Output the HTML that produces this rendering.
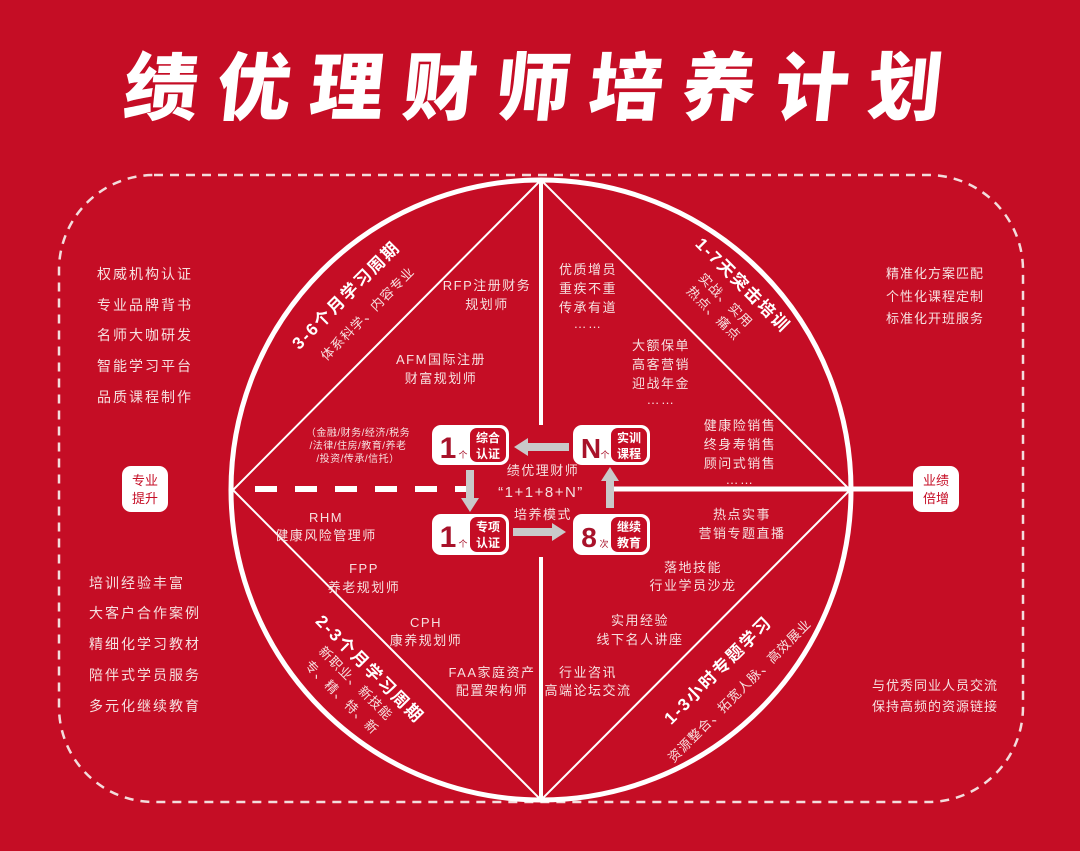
<!DOCTYPE html>
<html><head><meta charset="utf-8">
<style>
html,body{margin:0;padding:0;background:#c50d25;}
svg{display:block;}
text{font-family:"Liberation Sans","Noto Sans CJK SC",sans-serif;}
</style></head>
<body>
<svg width="1080" height="851" viewBox="0 0 1080 851" xmlns="http://www.w3.org/2000/svg">
<rect width="1080" height="851" fill="#c50d25"/>
<!-- title -->
<text x="540" y="114" text-anchor="middle" font-size="74" font-weight="900" fill="#fff" letter-spacing="19" font-family="'Noto Sans CJK SC',sans-serif" transform="skewX(-6) translate(12 0)" style="font-weight:900">绩优理财师培养计划</text>
<!-- dashed rounded rect -->
<rect x="59" y="175" width="964" height="627" rx="95" ry="95" fill="none" stroke="#f3dcdc" stroke-width="2.5" stroke-dasharray="9 7"/>
<!-- circle -->
<circle cx="541" cy="490" r="310" fill="none" stroke="#fff" stroke-width="5"/>
<!-- diamond -->
<polygon points="541,180 233,490 541,800 850,490" fill="none" stroke="#fff" stroke-width="2"/>
<line x1="541" y1="180" x2="541" y2="425" stroke="#fff" stroke-width="4"/>
<line x1="541" y1="557" x2="541" y2="800" stroke="#fff" stroke-width="4"/>
<!-- horizontal lines -->
<line x1="255" y1="489" x2="470" y2="489" stroke="#fff" stroke-width="6" stroke-dasharray="22 18"/>
<line x1="613" y1="489" x2="913" y2="489" stroke="#fff" stroke-width="5"/>
<!-- side boxes -->
<rect x="122" y="466" width="46" height="46" rx="9" fill="#fff"/>
<text x="145" y="485" text-anchor="middle" font-size="13" fill="#c50d25">专业</text>
<text x="145" y="503" text-anchor="middle" font-size="13" fill="#c50d25">提升</text>
<rect x="913" y="466" width="46" height="46" rx="9" fill="#fff"/>
<text x="936" y="485" text-anchor="middle" font-size="13" fill="#c50d25">业绩</text>
<text x="936" y="503" text-anchor="middle" font-size="13" fill="#c50d25">倍增</text>

<g font-size="14" fill="#f6e0e0" letter-spacing="2">
<text x="97" y="279">权威机构认证</text>
<text x="97" y="310">专业品牌背书</text>
<text x="97" y="340">名师大咖研发</text>
<text x="97" y="371">智能学习平台</text>
<text x="97" y="402">品质课程制作</text>
<text x="89" y="588">培训经验丰富</text>
<text x="89" y="618">大客户合作案例</text>
<text x="89" y="649">精细化学习教材</text>
<text x="89" y="680">陪伴式学员服务</text>
<text x="89" y="711">多元化继续教育</text>
</g>
<g font-size="13" fill="#f6e0e0" letter-spacing="1" text-anchor="middle">
<text x="935" y="278">精准化方案匹配</text>
<text x="935" y="301">个性化课程定制</text>
<text x="935" y="323">标准化开班服务</text>
<text x="935" y="690">与优秀同业人员交流</text>
<text x="935" y="711">保持高频的资源链接</text>
</g>

<!-- quadrant texts -->
<g font-size="13" fill="#f6e0e0" letter-spacing="1.5" text-anchor="middle">
<text x="487" y="290">RFP注册财务</text>
<text x="487" y="309">规划师</text>
<text x="441" y="364">AFM国际注册</text>
<text x="441" y="383">财富规划师</text>
<text x="358" y="436" font-size="10" letter-spacing="0.5">（金融/财务/经济/税务</text>
<text x="358" y="449" font-size="10" letter-spacing="0.5">/法律/住房/教育/养老</text>
<text x="358" y="462" font-size="10" letter-spacing="0.5">/投资/传承/信托）</text>
<text x="326" y="522">RHM</text>
<text x="326" y="540">健康风险管理师</text>
<text x="364" y="573">FPP</text>
<text x="364" y="592">养老规划师</text>
<text x="426" y="627">CPH</text>
<text x="426" y="645">康养规划师</text>
<text x="492" y="677">FAA家庭资产</text>
<text x="492" y="695">配置架构师</text>
<text x="588" y="274">优质增员</text>
<text x="588" y="293">重疾不重</text>
<text x="588" y="312">传承有道</text>
<text x="588" y="328">……</text>
<text x="661" y="350">大额保单</text>
<text x="661" y="369">高客营销</text>
<text x="661" y="388">迎战年金</text>
<text x="661" y="404">……</text>
<text x="740" y="430">健康险销售</text>
<text x="740" y="449">终身寿销售</text>
<text x="740" y="468">顾问式销售</text>
<text x="740" y="484">……</text>
<text x="742" y="519">热点实事</text>
<text x="742" y="538">营销专题直播</text>
<text x="693" y="572">落地技能</text>
<text x="693" y="590">行业学员沙龙</text>
<text x="640" y="625">实用经验</text>
<text x="640" y="644">线下名人讲座</text>
<text x="588" y="677">行业咨讯</text>
<text x="588" y="695">高端论坛交流</text>
</g>

<!-- rotated titles -->
<g fill="#fff" text-anchor="middle">
<text transform="translate(346,295) rotate(-45)" y="6" font-size="17" font-weight="bold" letter-spacing="2">3-6个月学习周期</text>
<text transform="translate(363,309) rotate(-45)" y="11" font-size="13" letter-spacing="1" fill="#f6e0e0">体系科学、内容专业</text>
<text transform="translate(743,285) rotate(45)" y="6" font-size="17" font-weight="bold" letter-spacing="2">1-7天突击培训</text>
<text transform="translate(726,300) rotate(45)" y="5" font-size="13" letter-spacing="1" fill="#f6e0e0">实战、实用</text>
<text transform="translate(714,313) rotate(45)" y="5" font-size="13" letter-spacing="1" fill="#f6e0e0">热点、痛点</text>
<text transform="translate(370,669) rotate(45)" y="6" font-size="17" font-weight="bold" letter-spacing="2">2-3个月学习周期</text>
<text transform="translate(356,683) rotate(45)" y="5" font-size="13" letter-spacing="1" fill="#f6e0e0">新职业、新技能</text>
<text transform="translate(342,697) rotate(45)" y="5" font-size="13" letter-spacing="1" fill="#f6e0e0">专、精、特、新</text>
<text transform="translate(718,670) rotate(-45)" y="6" font-size="17" font-weight="bold" letter-spacing="2">1-3小时专题学习</text>
<text transform="translate(735,686) rotate(-45)" y="11" font-size="13" letter-spacing="1" fill="#f6e0e0">资源整合、拓宽人脉、高效展业</text>
</g>

<!-- center -->
<g text-anchor="middle" fill="#f6e0e0" letter-spacing="1.5">
<text x="543" y="475" font-size="13">绩优理财师</text>
<text x="541" y="497" font-size="15">“1+1+8+N”</text>
<text x="543" y="519" font-size="13">培养模式</text>
</g>
<!-- arrows -->
<g fill="#c9c9c9">
<rect x="526" y="443" width="43" height="8"/><polygon points="514,447 528,438 528,456"/>
<rect x="466" y="470" width="8" height="30"/><polygon points="470,512 461,498 479,498"/>
<rect x="513" y="528" width="40" height="8"/><polygon points="566,532 552,523 552,541"/>
<rect x="606" y="480" width="8" height="28"/><polygon points="610,467 601,481 619,481"/>
</g>
<!-- boxes -->
<g>
<rect x="432" y="425" width="77" height="40" rx="9" fill="#fff"/>
<rect x="470" y="428" width="36" height="34" rx="7" fill="#c50d25"/>
<text x="448" y="458" font-size="30" font-weight="bold" fill="#a8122a" text-anchor="middle">1</text>
<text x="463" y="458" font-size="9" fill="#a8122a" text-anchor="middle">个</text>
<text x="488" y="442" font-size="12" font-weight="bold" fill="#fff" text-anchor="middle">综合</text>
<text x="488" y="458" font-size="12" font-weight="bold" fill="#fff" text-anchor="middle">认证</text>

<rect x="573" y="425" width="77" height="40" rx="9" fill="#fff"/>
<rect x="611" y="428" width="36" height="34" rx="7" fill="#c50d25"/>
<text x="591" y="458" font-size="28" font-weight="bold" fill="#a8122a" text-anchor="middle">N</text>
<text x="605" y="458" font-size="9" fill="#a8122a" text-anchor="middle">个</text>
<text x="629" y="442" font-size="12" font-weight="bold" fill="#fff" text-anchor="middle">实训</text>
<text x="629" y="458" font-size="12" font-weight="bold" fill="#fff" text-anchor="middle">课程</text>

<rect x="432" y="514" width="77" height="41" rx="9" fill="#fff"/>
<rect x="470" y="517" width="36" height="35" rx="7" fill="#c50d25"/>
<text x="448" y="547" font-size="30" font-weight="bold" fill="#a8122a" text-anchor="middle">1</text>
<text x="463" y="547" font-size="9" fill="#a8122a" text-anchor="middle">个</text>
<text x="488" y="531" font-size="12" font-weight="bold" fill="#fff" text-anchor="middle">专项</text>
<text x="488" y="547" font-size="12" font-weight="bold" fill="#fff" text-anchor="middle">认证</text>

<rect x="573" y="514" width="77" height="41" rx="9" fill="#fff"/>
<rect x="611" y="517" width="36" height="35" rx="7" fill="#c50d25"/>
<text x="589" y="547" font-size="28" font-weight="bold" fill="#a8122a" text-anchor="middle">8</text>
<text x="604" y="547" font-size="9" fill="#a8122a" text-anchor="middle">次</text>
<text x="629" y="531" font-size="12" font-weight="bold" fill="#fff" text-anchor="middle">继续</text>
<text x="629" y="547" font-size="12" font-weight="bold" fill="#fff" text-anchor="middle">教育</text>
</g>
</svg>
</body></html>
